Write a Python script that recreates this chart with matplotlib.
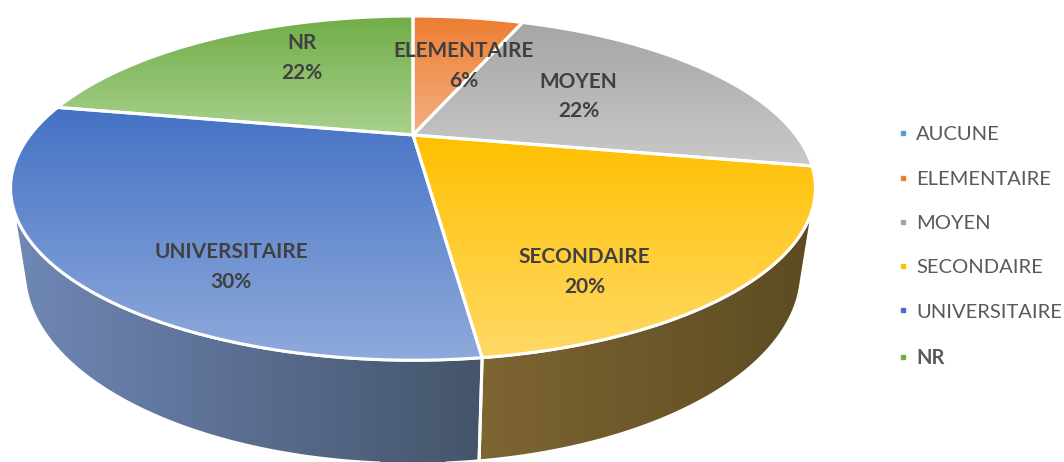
import numpy as np
import matplotlib
matplotlib.use("Agg")
import matplotlib.pyplot as plt
import matplotlib.colors as mcolors
from matplotlib.patches import Polygon
from matplotlib.lines import Line2D

plt.rcParams['font.family'] = ['Lato', 'DejaVu Sans']

# donnees
categories = ["AUCUNE", "ELEMENTAIRE", "MOYEN", "SECONDAIRE", "UNIVERSITAIRE", "NR"]
values = [0, 6, 22, 20, 30, 22]
top_colors = ["#5B9BD5", "#ED7D31", "#A5A5A5", "#FFC000", "#4472C4", "#70AD47"]
light_colors = ["#9DC3E6", "#F4B183", "#C9C9C9", "#FFD966", "#8FAADC", "#A9D18E"]
side_left = ["#5A7FA8", "#8C4A1D", "#7A7A7A", "#7E6532", "#7088B7", "#4E7A31"]
side_right = ["#3A5572", "#6B3816", "#595959", "#5C4B22", "#44546A", "#3B5C25"]

# petits decalages des etiquettes (pixels), comme Excel les place
label_nudge = [(0, 0), (13, 11), (-25, 4), (-17, 55), (17, 56), (21, -12)]

# geometrie de la vue 3D (en pixels)
cx, cy = 413, 135
F, D, phi, h = 1133.0, 2.96, np.radians(24), 0.235


def proj(t, z=0.0, r=1.0):
    x = r * np.cos(t)
    y = r * np.sin(t)
    d = D + y * np.cos(phi) - z * np.sin(phi)
    return np.column_stack([cx + F * x / d, cy - F * (y * np.sin(phi) + z * np.cos(phi)) / d])


def grad_fill(ax, pts, c1, c2, horizontal=False, zorder=1):
    poly = Polygon(pts, closed=True, facecolor='none', edgecolor='white',
                   lw=2.2, joinstyle='round', zorder=zorder + 0.5)
    ax.add_patch(poly)
    x0, y0 = pts.min(axis=0)
    x1, y1 = pts.max(axis=0)
    c1 = np.array(mcolors.to_rgb(c1))
    c2 = np.array(mcolors.to_rgb(c2))
    s = np.linspace(0, 1, 256)[:, None]
    g = c1 * (1 - s) + c2 * s
    img = g[None, :, :] if horizontal else g[:, None, :]
    im = ax.imshow(img, extent=(x0, x1, y1, y0), origin='upper', aspect='auto',
                   interpolation='bilinear', zorder=zorder)
    im.set_clip_path(poly)
    return poly


fig = plt.figure(figsize=(10.64, 4.62), dpi=100)
ax = fig.add_axes([0, 0, 1, 1])
ax.axis('off')

total = float(sum(values))
bounds = np.radians(90 - 360 * np.concatenate([[0], np.cumsum(values)]) / total)

# limite visible des cotes
ts = np.arcsin(-1 / (D * np.cos(phi)))
vis_lo, vis_hi = -np.pi - ts, ts

# cotes
for i, v in enumerate(values):
    if v == 0:
        continue
    a1, a2 = bounds[i], bounds[i + 1]
    lo, hi = max(a2, vis_lo), min(a1, vis_hi)
    if hi <= lo:
        continue
    t = np.linspace(lo, hi, 120)
    pts = np.vstack([proj(t), proj(t[::-1], z=-h)])
    grad_fill(ax, pts, side_left[i], side_right[i], horizontal=True, zorder=1)

# faces superieures
for i, v in enumerate(values):
    if v == 0:
        continue
    a1, a2 = bounds[i], bounds[i + 1]
    t = np.linspace(a1, a2, 200)
    pts = np.vstack([[cx, cy], proj(t)])
    grad_fill(ax, pts, top_colors[i], light_colors[i], zorder=3)

# etiquettes
for i, v in enumerate(values):
    if v == 0:
        continue
    mid = (bounds[i] + bounds[i + 1]) / 2
    px, py = proj(np.array([mid]), r=0.62)[0]
    px += label_nudge[i][0]
    py += label_nudge[i][1]
    ax.text(px, py, f"{categories[i]}\n{v}%", ha='center', va='center',
            fontsize=15, fontweight='bold', color='#404040', linespacing=1.6, zorder=10)

handles = [Line2D([], [], marker='s', ls='', color=c, markersize=3.5) for c in top_colors]
leg = ax.legend(handles, categories, loc='center left', bbox_to_anchor=(879 / 1064, 1 - 247 / 462),
                frameon=False, fontsize=14.5, labelcolor='#595959', handletextpad=0.35,
                handlelength=0.6, labelspacing=1.35)
leg.get_texts()[-1].set_fontweight('bold')

ax.set_xlim(0, 1064)
ax.set_ylim(462, 0)
fig.savefig("out.png", dpi=100)
